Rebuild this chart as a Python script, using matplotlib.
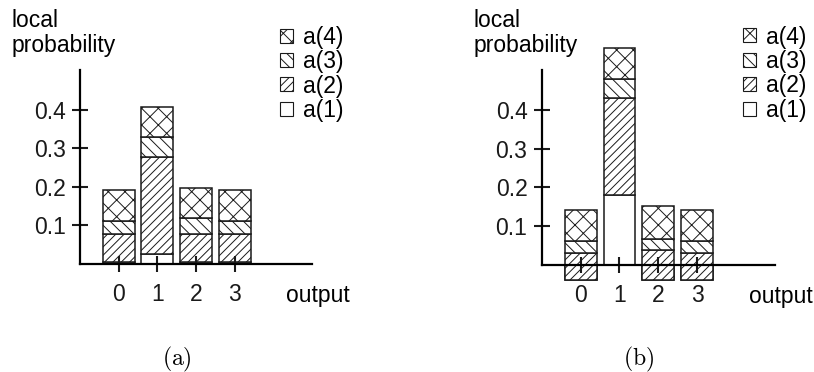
import numpy as np
import matplotlib
matplotlib.use("Agg")
import matplotlib.pyplot as plt
from matplotlib.patches import Patch

plt.rcParams['font.family'] = ['Liberation Sans', 'DejaVu Sans']
plt.rcParams['mathtext.fontset'] = 'cm'
plt.rcParams['hatch.linewidth'] = 0.7

# данные
outputs = [0, 1, 2, 3]
labels = ['a(1)', 'a(2)', 'a(3)', 'a(4)']
hatches = ['', '////', '\\\\\\', 'xx']

a_left = [
    [0.006, 0.027, 0.006, 0.006],   # a(1)
    [0.073, 0.251, 0.073, 0.073],   # a(2)
    [0.032, 0.051, 0.040, 0.032],   # a(3)
    [0.081, 0.079, 0.079, 0.081],   # a(4)
]
a_right = [
    [-0.038, 0.181, -0.038, -0.038],
    [0.068, 0.249, 0.076, 0.068],
    [0.0315, 0.050, 0.030, 0.0315],
    [0.080, 0.080, 0.083, 0.080],
]
yticks = [0.1, 0.2, 0.3, 0.4]

W, H = 814, 372
FS = 16.5
fig = plt.figure(figsize=(W / 100, H / 100), dpi=100)


def px_axes(x0, y0, x1, y1):
    return fig.add_axes([x0 / W, 1 - y1 / H, (x1 - x0) / W, (y1 - y0) / H])


def draw_panel(ax, parts, caption):
    bottom = np.zeros(len(outputs))
    for i, vals in enumerate(parts):
        vals = np.array(vals)
        if i == 0:
            ax.bar(outputs, vals, width=0.82, color='white', edgecolor='#1a1a1a',
                   linewidth=1.1, clip_on=False, zorder=1)
            bottom = vals.copy()
        else:
            ax.bar(outputs, vals, bottom=bottom, width=0.82, color='white',
                   edgecolor='#1a1a1a', hatch=hatches[i], linewidth=1.1,
                   clip_on=False, zorder=1 + i * 0.01)
            bottom = bottom + vals
    ax.set_xlim(-1, 5)
    ax.set_ylim(0, 0.503)
    for s in ['top', 'right']:
        ax.spines[s].set_visible(False)
    for s in ['left', 'bottom']:
        ax.spines[s].set_linewidth(1.6)
        ax.spines[s].set_zorder(3)
    ax.set_xticks(outputs)
    ax.set_yticks(yticks)
    ax.set_yticklabels([f'{v:.1f}' for v in yticks])
    ax.tick_params(axis='both', direction='inout', length=11.5, width=1.5,
                   labelsize=FS, colors='#1a1a1a')
    ax.tick_params(axis='y', pad=4.5)
    ax.tick_params(axis='x', pad=8)
    ax.annotate('output', xy=(4.32, 0), xycoords=('data', 'axes fraction'),
                xytext=(0, -27.5), textcoords='offset points',
                ha='left', va='baseline', fontsize=FS)
    handles = [Patch(facecolor='white', edgecolor='#1a1a1a', hatch=hatches[i],
                     linewidth=0.8, label=labels[i]) for i in range(3, -1, -1)]
    ax.legend(handles=handles, loc='upper left', bbox_to_anchor=(0.862, 1.228),
              frameon=False, fontsize=FS, handlelength=0.56, handleheight=0.56,
              handletextpad=0.44, labelspacing=0.06, borderpad=0, borderaxespad=0)
    pos = ax.get_position()
    xl = pos.x0 - 68 / W
    fig.text(xl, 1 - 27 / H, 'local', fontsize=FS, va='baseline', ha='left')
    fig.text(xl, 1 - 52 / H, 'probability', fontsize=FS, va='baseline', ha='left')
    fig.text(pos.x0 + 97 / W, 1 - 359 / H, caption, fontsize=17,
             ha='center', va='center')


ax1 = px_axes(80, 70, 312, 264)
draw_panel(ax1, a_left, r'$\mathrm{(a)}$')
ax2 = px_axes(541.7, 70, 775, 265)
draw_panel(ax2, a_right, r'$\mathrm{(b)}$')

fig.savefig('out.png', dpi=100)
